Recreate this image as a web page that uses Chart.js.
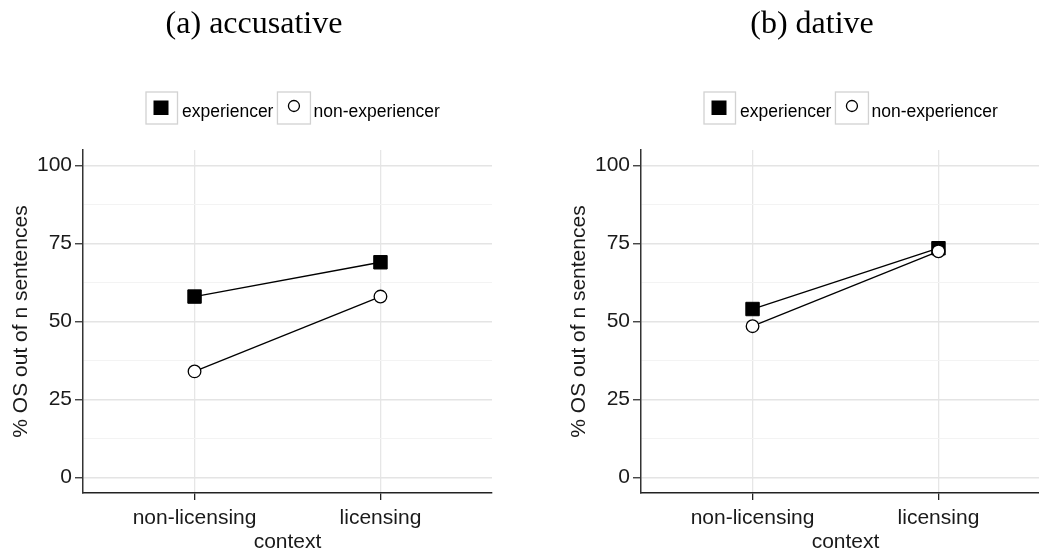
<!DOCTYPE html>
<html>
<head>
<meta charset="utf-8">
<script src="https://cdn.jsdelivr.net/npm/chart.js@4"></script>
<style>
  html, body { margin: 0; padding: 0; background: #fff; overflow: hidden; }
  #page { position: relative; width: 1039px; height: 556px; overflow: hidden; }
  canvas { position: absolute; top: 0; }
  #leftChart { left: 0; }
  #rightChart { left: 558px; }
</style>
</head>
<body>
<div id="page">
  <canvas id="leftChart" width="520" height="556"></canvas>
  <canvas id="rightChart" width="520" height="556"></canvas>
</div>
<script>
// data
const contexts = ['non-licensing', 'licensing'];
const seriesNames = ['experiencer', 'non-experiencer'];
const panelTitles = ['(a) accusative', '(b) dative'];

const accExperiencer = [58, 69];
const accNonExperiencer = [34, 58];
const datExperiencer = [54, 73.5];
const datNonExperiencer = [48.5, 72.5];

const yMajorTicks = [0, 25, 50, 75, 100];
const yMinorTicks = [12.5, 37.5, 62.5, 87.5];

const sans = '"Liberation Sans", Arial, sans-serif';
const isMajor = v => yMajorTicks.includes(v);

// title + boxed legend above each plot
const panelDecor = {
  id: 'panelDecor',
  afterDraw(chart, args, opts) {
    const c = chart.ctx;
    c.save();
    c.fillStyle = '#000';
    c.font = '32px "Liberation Serif", "Times New Roman", serif';
    c.textAlign = 'center';
    c.textBaseline = 'alphabetic';
    c.fillText(opts.title, 254, 33);

    c.font = '17.5px ' + sans;
    c.textAlign = 'left';
    c.lineWidth = 1.3;

    let x = 146;
    const top = 92, h = 32, base = 117;
    // experiencer
    c.strokeStyle = '#d2d2d2';
    c.strokeRect(x, top, 31.5, h);
    c.fillStyle = '#000';
    c.fillRect(x + 7.5, top + 8.5, 15, 14.5);
    x += 31.5 + 4.5;
    c.fillText(seriesNames[0], x, base);
    x += c.measureText(seriesNames[0]).width + 4;
    // non-experiencer
    c.strokeStyle = '#d2d2d2';
    c.strokeRect(x, top, 33, h);
    c.beginPath();
    c.arc(x + 16.5, top + 14, 5.5, 0, Math.PI * 2);
    c.fillStyle = '#fff';
    c.fill();
    c.strokeStyle = '#000';
    c.stroke();
    x += 33 + 3;
    c.fillStyle = '#000';
    c.fillText(seriesNames[1], x, base);
    c.restore();
  }
};

function makePanel(id, title, expVals, nonExpVals) {
  const toPoints = vals => vals.map((v, i) => ({ x: i + 1, y: v }));
  return new Chart(document.getElementById(id), {
    type: 'line',
    plugins: [panelDecor],
    data: {
      datasets: [
        {
          label: seriesNames[0],
          data: toPoints(expVals),
          order: 1,
          borderColor: '#000',
          borderWidth: 1.3,
          fill: false,
          pointStyle: 'rect',
          pointRadius: 9.5,
          pointBackgroundColor: '#000',
          pointBorderColor: '#000',
          pointBorderWidth: 1
        },
        {
          label: seriesNames[1],
          data: toPoints(nonExpVals),
          order: 0,
          borderColor: '#000',
          borderWidth: 1.3,
          fill: false,
          pointStyle: 'circle',
          pointRadius: 6.3,
          pointBackgroundColor: '#fff',
          pointBorderColor: '#000',
          pointBorderWidth: 1.3
        }
      ]
    },
    options: {
      responsive: false,
      animation: false,
      devicePixelRatio: 1,
      layout: { padding: { top: 150, right: 28, left: 0, bottom: 0 } },
      plugins: {
        legend: { display: false },
        tooltip: { enabled: false },
        panelDecor: { title: title }
      },
      scales: {
        x: {
          type: 'linear',
          min: 0.4,
          max: 2.6,
          afterBuildTicks: s => { s.ticks = contexts.map((c, i) => ({ value: i + 1 })); },
          afterFit: s => { s.height = 63; },
          ticks: {
            callback: v => contexts[v - 1] ?? '',
            autoSkip: false,
            maxRotation: 0,
            padding: 6,
            color: '#1a1a1a',
            font: { family: sans, size: 21 }
          },
          grid: { color: '#e6e6e6', lineWidth: 1.3, tickColor: '#222', tickLength: 7, tickWidth: 1.3 },
          border: { color: '#222', width: 1.5 },
          title: {
            display: true,
            text: 'context',
            color: '#1a1a1a',
            font: { family: sans, size: 21 },
            padding: { top: 0, bottom: 1 }
          }
        },
        y: {
          min: -5,
          max: 105,
          afterBuildTicks: s => {
            s.ticks = [...yMajorTicks, ...yMinorTicks].sort((a, b) => a - b).map(v => ({ value: v }));
          },
          afterFit: s => { s.width = 83; },
          ticks: {
            callback: v => isMajor(v) ? String(v) : '',
            autoSkip: false,
            padding: 3,
            color: '#1a1a1a',
            font: { family: sans, size: 21 }
          },
          grid: {
            color: c => (c.tick && isMajor(c.tick.value)) ? '#e4e4e4' : '#f3f3f3',
            lineWidth: c => (c.tick && isMajor(c.tick.value)) ? 1.5 : 1,
            tickColor: c => (c.tick && isMajor(c.tick.value)) ? '#333' : 'rgba(0,0,0,0)',
            tickLength: 8,
            tickWidth: 1.3
          },
          border: { color: '#333', width: 1.5 },
          title: {
            display: true,
            text: '% OS out of n sentences',
            color: '#1a1a1a',
            font: { family: sans, size: 21 },
            padding: { top: 9, bottom: 0 }
          }
        }
      }
    }
  });
}

makePanel('leftChart', panelTitles[0], accExperiencer, accNonExperiencer);
makePanel('rightChart', panelTitles[1], datExperiencer, datNonExperiencer);
</script>
</body>
</html>
